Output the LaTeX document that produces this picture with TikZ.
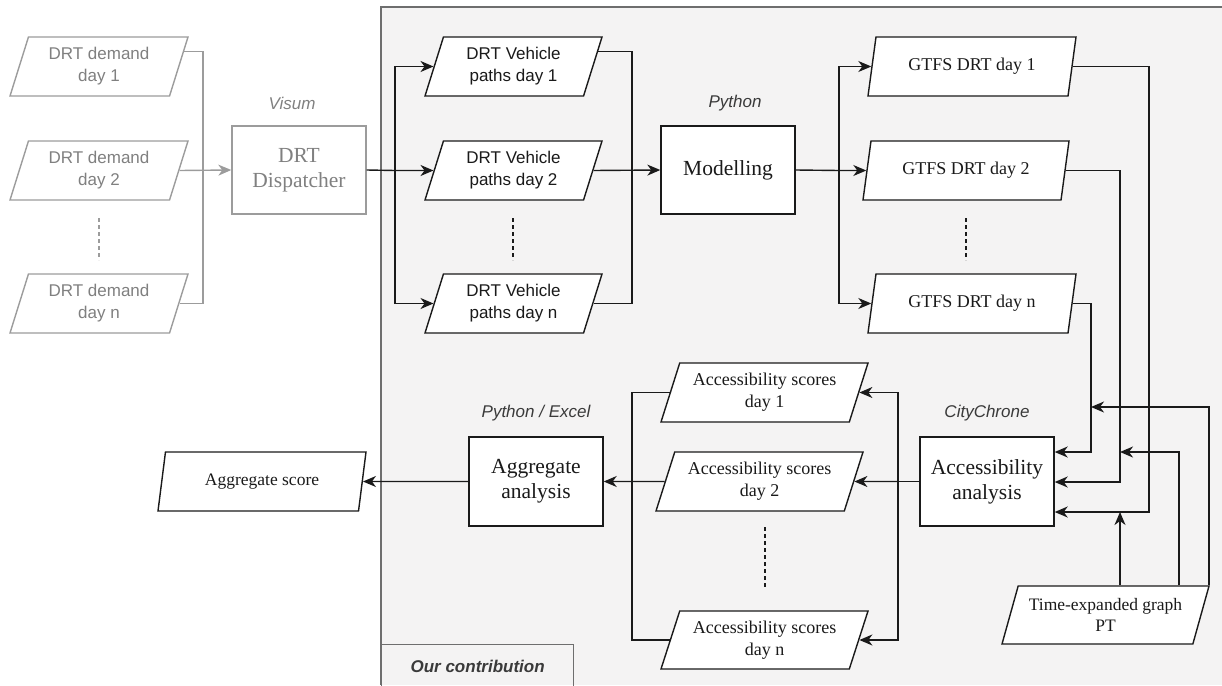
\documentclass[tikz,border=0pt]{standalone}
\usepackage{fontspec}
\setmainfont{Liberation Serif}
\setsansfont{Liberation Sans}
\usetikzlibrary{shapes.geometric,arrows.meta,calc}
\definecolor{panelfill}{HTML}{F4F3F3}
\definecolor{panelline}{HTML}{6E6E6E}
\definecolor{ghost}{HTML}{9C9C9C}
\definecolor{ghosttext}{HTML}{808080}
\definecolor{ink}{HTML}{1A1A1A}
\definecolor{labeltext}{HTML}{3A3A3A}
\tikzset{
  para/.style={trapezium, trapezium left angle=64, trapezium right angle=116,
    trapezium stretches body, draw=ink, fill=white, line width=1.4pt,
    inner sep=0pt, minimum height=59pt, minimum width=#1, align=center, text=ink},
  ghostpara/.style={para=#1, draw=ghost, text=ghosttext,
    font=\sffamily\fontsize{17}{22}\selectfont},
  vpara/.style={para=#1, font=\sffamily\fontsize{17}{22}\selectfont},
  spara/.style={para=#1, font=\fontsize{18}{22}\selectfont},
  proc/.style={draw=ink, fill=white, line width=1.4pt, minimum width=134pt,
    minimum height=88pt, inner sep=0pt, align=center, text=ink,
    font=\fontsize{21.5}{25}\selectfont},
  tool/.style={font=\sffamily\itshape\fontsize{17}{20}\selectfont, text=labeltext},
  conn/.style={line width=1.4pt, draw=ink},
  tipstyle/.style={-{Stealth[length=13pt,width=11pt,inset=4pt]}},
  arr/.style={conn, tipstyle},
  dots/.style={line width=1.4pt, dash pattern=on 4pt off 3pt}
}
\begin{document}
\begin{tikzpicture}[x=1pt,y=-1pt]
\useasboundingbox (0,0) rectangle (1222,685);
% panel
\fill[panelfill] (381,7) rectangle (1222,685);
\draw[panelline, line width=1.3pt] (1222,7) -- (381,7) -- (381,685);
\node[draw=panelline, line width=1.3pt, minimum width=192pt, minimum height=46pt,
  anchor=north west, inner sep=0pt, text=labeltext,
  font=\sffamily\bfseries\itshape\fontsize{17}{20}\selectfont] (oc) at (381,644) {\raisebox{2pt}{Our contribution}};

% demand (grey)
\node[ghostpara=178pt] (dem1) at (99,66.5) {DRT demand\\day 1};
\node[ghostpara=178pt] (dem2) at (99,170.5) {DRT demand\\day 2};
\node[ghostpara=178pt] (demn) at (99,303.5) {DRT demand\\day n};
\draw[dots, ghost] (99,218) -- (99,260);

\node[proc, draw=ghost, text=ghosttext] (disp) at (299,170) {DRT\\Dispatcher};
\node[tool, text=ghosttext] (visum) at (292,103) {Visum};

% vehicle paths
\node[vpara=177pt] (p1) at (513.5,66.5) {DRT Vehicle\\paths day 1};
\node[vpara=177pt] (p2) at (513.5,170.5) {DRT Vehicle\\paths day 2};
\node[vpara=177pt] (pn) at (513.5,303.5) {DRT Vehicle\\paths day n};
\draw[dots, ink] (513,218) -- (513,260);

\node[proc] (mod) at (728,170) {Modelling};
\node[tool] (py) at (735,103) {Python};

% GTFS
\node[spara=208pt] (g1) at (972,66.5) {GTFS DRT day 1};
\node[spara=206pt] (g2) at (966,170.5) {GTFS DRT day 2};
\node[spara=208pt] (gn) at (972,303.5) {GTFS DRT day n};
\draw[dots, ink] (966,218) -- (966,260);

% accessibility
\node[proc, minimum height=89pt] (acc) at (987,481.5) {Accessibility\\analysis};
\node[tool] (cc) at (987,413) {CityChrone};

\node[spara=207pt, minimum height=58pt, font=\fontsize{17.5}{21}\selectfont] (te) at (1105.5,615) {Time-expanded graph\\PT};

% scores
\node[spara=207pt] (s1) at (764.5,392.5) {Accessibility scores\\day 1};
\node[spara=207pt] (s2) at (759.5,481.5) {Accessibility scores\\day 2};
\node[spara=207pt, minimum height=58pt] (sn) at (764.5,640) {Accessibility scores\\day n};
\draw[dots, ink] (765,527) -- (765,587);

\node[proc, minimum height=89pt] (agg) at (536,481.5) {Aggregate\\analysis};
\node[tool] (pe) at (536,413) {Python / Excel};

\node[spara=208pt, font=\fontsize{17.5}{20}\selectfont] (ags) at (262,481.5) {Aggregate score};

% ---- connectors ----
\coordinate (dj) at (203,170.5);
\draw[conn, ghost] ($(dem1.bottom right corner)!0.75!(dem1.top right corner)$) -| (dj) |- (demn.east);
\draw[conn, ghost, tipstyle] (dem2.east) -- (disp.west);

\coordinate (pj) at (395,170.5);
\draw[conn] (disp.east) -- (pj);
\draw[arr] (pj) |- (p1.west);
\draw[arr] (pj) |- (pn.west);
\draw[arr] (pj) -- (p2.west);

\coordinate (mj) at (632,170.5);
\draw[conn] ($(p1.bottom right corner)!0.75!(p1.top right corner)$) -| (mj) |- (pn.east);
\draw[arr] (p2.east) -- (mod.west);

\coordinate (gj) at (839,170.5);
\draw[conn] (mod.east) -- (gj);
\draw[arr] (gj) |- (g1.west);
\draw[arr] (gj) |- (gn.west);
\draw[arr] (gj) -- (g2.west);

\coordinate (b1) at (1149,512);
\coordinate (b2) at (1120,482);
\coordinate (b3) at (1091,452);
\draw[arr] (g1.east) -| (b1) -- (acc.east |- b1);
\draw[arr] (g2.east) -| (b2) -- (acc.east |- b2);
\draw[arr] (gn.east) -| (b3) -- (acc.east |- b3);

\coordinate (t2) at (1179,452);
\coordinate (t3) at (1209,407);
\draw[arr] (b2 |- te.north) -- (b2 |- b1);
\draw[arr] (t2 |- te.north) -- (t2) -- (b2 |- t2);
\draw[arr] (t3 |- te.north) -- (t3) -- (b3 |- t3);

\coordinate (aj) at (898,481.5);
\draw[conn] (acc.west) -- (aj);
\draw[arr] (aj) |- (s1.east);
\draw[arr] (aj) |- (sn.east);
\draw[arr] (aj) -- (s2.east);

\coordinate (lj) at (632,481.5);
\draw[conn] (s1.west) -| (lj) |- (sn.west);
\draw[arr] (s2.west) -- (agg.east);

\draw[arr] (agg.west) -- (ags.east);
\end{tikzpicture}
\end{document}
